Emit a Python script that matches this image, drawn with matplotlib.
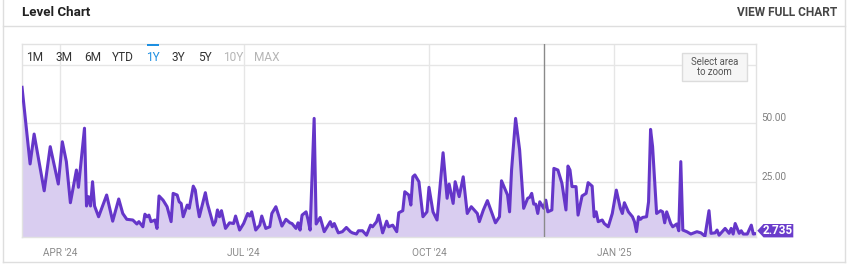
import pandas as pd
import matplotlib.pyplot as plt
from matplotlib.patches import Polygon, Rectangle

# level series, vertices (date, value)
fechas = [
    '2024-03-13', '2024-03-17', '2024-03-19', '2024-03-24', '2024-03-27', '2024-03-31',
    '2024-04-02', '2024-04-04', '2024-04-06', '2024-04-09', '2024-04-10', '2024-04-13',
    '2024-04-14', '2024-04-15', '2024-04-16', '2024-04-17', '2024-04-18', '2024-04-20',
    '2024-04-24', '2024-04-27', '2024-04-30', '2024-05-02', '2024-05-04', '2024-05-07',
    '2024-05-09', '2024-05-10', '2024-05-12', '2024-05-13', '2024-05-14', '2024-05-15',
    '2024-05-16', '2024-05-18', '2024-05-19', '2024-05-20', '2024-05-22', '2024-05-24',
    '2024-05-26', '2024-05-27', '2024-05-29', '2024-05-30', '2024-05-31', '2024-06-01',
    '2024-06-03', '2024-06-04', '2024-06-06', '2024-06-07', '2024-06-08', '2024-06-09',
    '2024-06-12', '2024-06-13', '2024-06-16', '2024-06-17', '2024-06-18', '2024-06-19',
    '2024-06-20', '2024-06-22', '2024-06-24', '2024-06-26', '2024-06-27', '2024-06-29',
    '2024-07-01', '2024-07-03', '2024-07-04', '2024-07-05', '2024-07-07', '2024-07-09',
    '2024-07-10', '2024-07-12', '2024-07-14', '2024-07-15', '2024-07-17', '2024-07-19',
    '2024-07-20', '2024-07-22', '2024-07-24', '2024-07-25', '2024-07-27', '2024-07-28',
    '2024-07-29', '2024-07-30', '2024-08-01', '2024-08-02', '2024-08-03', '2024-08-05',
    '2024-08-06', '2024-08-08', '2024-08-10', '2024-08-13', '2024-08-14', '2024-08-15',
    '2024-08-17', '2024-08-19', '2024-08-21', '2024-08-23', '2024-08-24', '2024-08-26',
    '2024-08-27', '2024-08-29', '2024-08-31', '2024-09-02', '2024-09-03', '2024-09-05',
    '2024-09-06', '2024-09-08', '2024-09-10', '2024-09-11', '2024-09-13', '2024-09-15',
    '2024-09-16', '2024-09-18', '2024-09-19', '2024-09-21', '2024-09-22', '2024-09-23',
    '2024-09-24', '2024-09-26', '2024-09-28', '2024-09-30', '2024-10-01', '2024-10-03',
    '2024-10-05', '2024-10-08', '2024-10-10', '2024-10-11', '2024-10-13', '2024-10-14',
    '2024-10-16', '2024-10-18', '2024-10-20', '2024-10-22', '2024-10-25', '2024-10-26',
    '2024-10-28', '2024-10-30', '2024-11-01', '2024-11-03', '2024-11-05', '2024-11-06',
    '2024-11-09', '2024-11-10', '2024-11-11', '2024-11-13', '2024-11-15', '2024-11-17',
    '2024-11-19', '2024-11-20', '2024-11-21', '2024-11-22', '2024-11-23', '2024-11-24',
    '2024-11-25', '2024-11-27', '2024-11-28', '2024-11-29', '2024-12-01', '2024-12-02',
    '2024-12-04', '2024-12-06', '2024-12-08', '2024-12-09', '2024-12-10', '2024-12-11',
    '2024-12-13', '2024-12-14', '2024-12-16', '2024-12-18', '2024-12-19', '2024-12-21',
    '2024-12-22', '2024-12-23', '2024-12-24', '2024-12-26', '2024-12-27', '2024-12-29',
    '2024-12-31', '2025-01-02', '2025-01-04', '2025-01-05', '2025-01-06', '2025-01-08',
    '2025-01-10', '2025-01-11', '2025-01-12', '2025-01-13', '2025-01-14', '2025-01-15',
    '2025-01-17', '2025-01-18', '2025-01-19', '2025-01-20', '2025-01-22', '2025-01-24',
    '2025-01-25', '2025-01-26', '2025-01-27', '2025-01-29', '2025-01-30', '2025-02-01',
    '2025-02-02', '2025-02-03', '2025-02-04', '2025-02-06', '2025-02-08', '2025-02-11',
    '2025-02-13', '2025-02-15', '2025-02-17', '2025-02-18', '2025-02-20', '2025-02-21',
    '2025-02-22', '2025-02-25', '2025-02-27', '2025-02-28', '2025-03-01', '2025-03-02',
    '2025-03-04', '2025-03-05', '2025-03-06', '2025-03-08', '2025-03-10', '2025-03-11',
    '2025-03-12',
]
valores = [
    65.4, 32.6, 45.4, 21.1, 40.0, 24.0,
    42.1, 33.6, 16.0, 30.0, 22.6, 47.9,
    14.6, 18.6, 14.6, 25.0, 14.6, 10.0,
    19.3, 8.1, 17.6, 11.4, 8.9, 8.6,
    6.9, 7.9, 5.7, 11.1, 10.0, 10.7,
    7.9, 8.6, 5.0, 18.9, 17.1, 14.3,
    7.9, 20.0, 19.3, 16.4, 15.7, 10.0,
    15.0, 13.6, 23.1, 21.4, 15.0, 10.0,
    20.3, 15.7, 6.4, 7.9, 12.9, 10.0,
    12.6, 5.0, 7.4, 7.1, 10.3, 4.3,
    7.1, 11.4, 10.3, 12.1, 4.3, 6.4,
    10.3, 5.0, 5.7, 11.4, 14.3, 8.9,
    6.0, 8.9, 7.4, 7.1, 5.0, 7.4,
    4.3, 10.7, 12.1, 8.6, 4.3, 52.1,
    6.9, 9.7, 3.6, 7.9, 5.7, 7.1,
    3.1, 3.6, 5.4, 3.6, 3.1, 2.6,
    4.0, 4.0, 2.1, 6.4, 5.7, 7.9,
    10.7, 3.1, 8.1, 5.7, 6.4, 3.6,
    11.7, 12.6, 20.7, 19.3, 15.0, 27.1,
    27.9, 25.0, 10.0, 12.1, 22.6, 12.1,
    8.6, 37.4, 17.9, 24.0, 15.7, 25.0,
    18.6, 27.1, 11.4, 14.3, 11.4, 7.9,
    12.9, 16.9, 12.1, 7.4, 10.0, 25.4,
    19.3, 12.1, 30.0, 52.1, 38.6, 13.6,
    17.9, 18.3, 20.0, 15.4, 15.4, 11.4,
    16.4, 13.6, 17.1, 12.1, 12.9, 30.7,
    30.0, 24.3, 12.9, 31.7, 30.0, 22.9,
    22.9, 10.7, 18.9, 20.0, 24.6, 23.1,
    10.0, 12.1, 7.9, 8.6, 7.1, 5.7,
    11.4, 21.4, 13.6, 11.4, 16.0, 12.1,
    10.0, 7.9, 3.6, 10.0, 8.9, 9.7,
    10.0, 16.4, 47.4, 40.0, 11.4, 12.6,
    12.1, 7.4, 12.1, 7.1, 5.7, 6.9,
    4.0, 33.6, 4.3, 3.6, 2.6, 3.6,
    3.1, 1.7, 12.6, 2.9, 3.1, 4.3,
    2.1, 5.0, 2.9, 5.0, 2.6, 7.1,
    2.9, 4.0, 2.6, 2.6, 6.4, 2.6,
    2.735,
]
ultimo = '2.735'

etiquetas_x = ["APR '24", "JUL '24", "OCT '24", "JAN '25"]
fechas_x = ['2024-04-01', '2024-07-01', '2024-10-01', '2025-01-01']
niveles_y = [25, 50, 75]
etiquetas_y = ['25.00', '50.00']
botones = ['1M', '3M', '6M', 'YTD', '1Y', '3Y', '5Y', '10Y', 'MAX']
fecha_cursor = '2024-11-27 06:00'

MORADO = '#6536c9'
RELLENO = '#d9cdf0'
GRIS = '#e6e6e6'
FUENTE = ['Liberation Sans Narrow', 'Roboto', 'DejaVu Sans']

plt.rcParams['font.family'] = FUENTE

W, H = 860, 269
fig = plt.figure(figsize=(W / 100, H / 100), dpi=100)

# chart area in pixels: x 21.7-756, y 44-237.3
ax = fig.add_axes([21.7 / W, 1 - 237.3 / H, (756 - 21.7) / W, (237.3 - 44) / H])
x = pd.to_datetime(fechas)
ymin, ymax = 1.2, 83.95
ax.fill_between(x, valores, ymin, color=RELLENO, lw=0, zorder=2)
ax.plot(x, valores, color=MORADO, lw=2.2, solid_joinstyle='round', zorder=3)
ax.set_xlim(pd.Timestamp('2024-03-12 20:00'), pd.Timestamp('2025-03-12 08:00'))
ax.set_ylim(ymin, ymax)
for n in niveles_y:
    ax.axhline(n, color=GRIS, lw=1, zorder=1)
for f in fechas_x:
    ax.axvline(pd.Timestamp(f), color=GRIS, lw=1, zorder=1)
ax.axvline(pd.Timestamp(fecha_cursor), color='#8a8a8a', lw=1, zorder=4)
ax.set_xticks([])
ax.set_yticks([])
for s in ax.spines.values():
    s.set_color('#e2e2e2')
    s.set_linewidth(1)

# x labels below the axis
for f, t in zip(fechas_x, etiquetas_x):
    ax.annotate(t, (pd.Timestamp(f), ymin), xytext=(0, -11), textcoords='offset points',
                ha='center', va='center', fontsize=7.2, color='#8a8a8a', annotation_clip=False)
# y labels right of the axis, sitting above their gridline
for n, t in zip([25, 50], etiquetas_y):
    ax.annotate(t, (1, n), xycoords=('axes fraction', 'data'), xytext=(3.7, 3.6),
                textcoords='offset points', ha='left', va='center', fontsize=7.2,
                color='#808080', annotation_clip=False)

# overlay in pixel coordinates for the page chrome
ov = fig.add_axes([0, 0, 1, 1])
ov.set_xlim(0, W)
ov.set_ylim(H, 0)
ov.axis('off')

borde = '#dedede'
ov.plot([3, 3], [0, 262], color=borde, lw=1)
ov.plot([845, 845], [0, 262], color=borde, lw=1)
ov.plot([3, 845], [262, 262], color=borde, lw=1)
ov.plot([3, 845], [26, 26], color=borde, lw=1)

ov.text(22, 12.5, 'Level Chart', fontsize=9.6, fontweight='bold', color='#222222',
        ha='left', va='center')
ov.text(837, 12.5, 'VIEW FULL CHART', fontsize=8.6, fontweight='bold', color='#454545',
        ha='right', va='center')

centros = [35, 64, 92.7, 123, 153, 178.5, 204.7, 233, 266.5]
for b, cx in zip(botones, centros):
    c = '#333333'
    if b == '1Y':
        c = '#1d8fe1'
    elif b in ('10Y', 'MAX'):
        c = '#b5b5b5'
    ov.text(cx, 57.8, b, fontsize=8.6, color=c, ha='center', va='center')
ov.add_patch(Rectangle((146.7, 44), 12, 2.2, color='#1d8fe1', lw=0))

ov.add_patch(Rectangle((681.7, 53.3), 65.6, 28, facecolor='#f6f6f6', edgecolor='#dcdcdc', lw=1))
ov.text(714.5, 61.8, 'Select area', fontsize=6.9, color='#555555', ha='center', va='center')
ov.text(714.5, 72.2, 'to zoom', fontsize=6.9, color='#555555', ha='center', va='center')

# last value tag
yc = 230.7
ov.add_patch(Polygon([(757.3, yc), (763.5, yc - 6.7), (793.3, yc - 6.7), (793.3, yc + 6.7),
                      (763.5, yc + 6.7)], closed=True, color='#6a3ccb', lw=0))
ov.text(777.5, yc + 0.3, ultimo, fontsize=8.4, fontweight='bold', color='white',
        ha='center', va='center')

fig.savefig('out.png', dpi=100)
